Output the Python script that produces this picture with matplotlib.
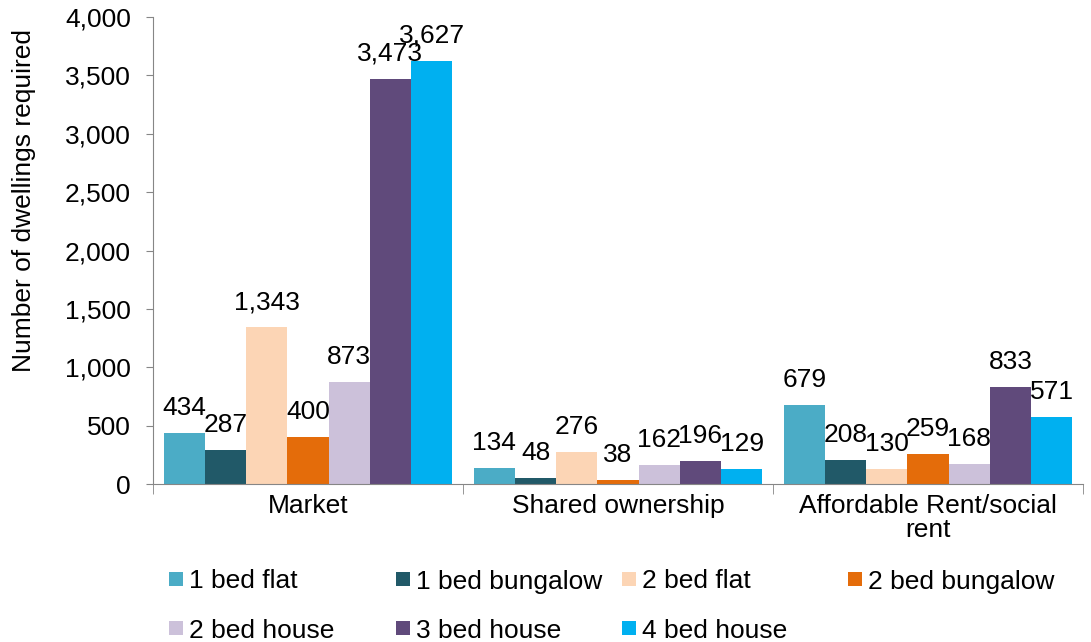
import matplotlib
matplotlib.use("Agg")
import matplotlib.pyplot as plt
import numpy as np
from matplotlib.patches import Rectangle

plt.rcParams['font.family'] = ['Liberation Sans', 'DejaVu Sans']

categories = ["Market", "Shared ownership", "Affordable Rent/social\nrent"]
series_names = ["1 bed flat", "1 bed bungalow", "2 bed flat", "2 bed bungalow",
                "2 bed house", "3 bed house", "4 bed house"]
one_bed_flat = [434, 134, 679]
one_bed_bungalow = [287, 48, 208]
two_bed_flat = [1343, 276, 130]
two_bed_bungalow = [400, 38, 259]
two_bed_house = [873, 162, 168]
three_bed_house = [3473, 196, 833]
four_bed_house = [3627, 129, 571]
series_values = [one_bed_flat, one_bed_bungalow, two_bed_flat, two_bed_bungalow,
                 two_bed_house, three_bed_house, four_bed_house]
colors = ["#4BACC6", "#215968", "#FCD5B5", "#E46C0A", "#CCC1DA", "#604A7B", "#00B0F0"]

W, H = 1091, 642
FS = 19
fig = plt.figure(figsize=(W / 100, H / 100), dpi=100)
ax = fig.add_axes([153 / W, 1 - 484 / H, (1083 - 153) / W, (484 - 17) / H])

x = np.arange(len(categories))
bw = 0.133
n = len(series_names)
for i, (vals, c) in enumerate(zip(series_values, colors)):
    pos = x + (i - (n - 1) / 2) * bw
    ax.bar(pos, vals, width=bw, color=c, edgecolor='none')
    for p, v in zip(pos, vals):
        ax.annotate(f"{v:,}", (p, v), xytext=(0, 13), textcoords='offset points',
                    ha='center', va='baseline', fontsize=FS, color='black')

ax.set_xlim(-0.5, 2.5)
ax.set_ylim(0, 4000)
ax.set_yticks(np.arange(0, 4001, 500))
ax.set_yticklabels([f"{v:,}" for v in range(0, 4001, 500)], fontsize=FS)
ax.set_ylabel("Number of dwellings required", fontsize=FS)
ax.yaxis.set_label_coords(-0.1255, 0.608)

ax.set_xticks(x)
ax.set_xticklabels(categories, fontsize=FS, linespacing=1.0)
ax.tick_params(axis='x', length=0, pad=7)
ax.set_xticks([-0.5, 0.5, 1.5, 2.5], minor=True)
ax.tick_params(axis='x', which='minor', length=7, color='#868686', direction='out')
ax.tick_params(axis='y', length=5, color='#868686', direction='out', pad=11)

for s in ['top', 'right']:
    ax.spines[s].set_visible(False)
for s in ['left', 'bottom']:
    ax.spines[s].set_color('#868686')

# legend laid out in fixed-width columns, row by row
col_x = [169, 396, 622, 848]
row_y = [579, 628]
sq = 14
for k, (name, c) in enumerate(zip(series_names, colors)):
    cx = col_x[k % 4]
    cy = row_y[k // 4]
    fig.patches.append(Rectangle((cx / W, 1 - (cy + sq / 2) / H), sq / W, sq / H,
                                 transform=fig.transFigure, facecolor=c,
                                 edgecolor='none'))
    fig.text((cx + sq + 6) / W, 1 - cy / H, name, fontsize=FS, ha='left',
             va='center_baseline', color='black')

fig.savefig("out.png", dpi=100)
